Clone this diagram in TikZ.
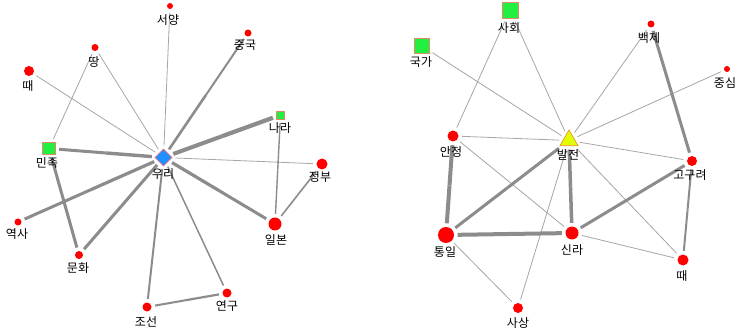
\documentclass[tikz,border=0pt]{standalone}
\usepackage{fontspec}
\setmainfont{Noto Sans CJK KR}
\usetikzlibrary{shapes.geometric,calc}
\pgfdeclarelayer{bg}
\pgfsetlayers{bg,main}
\definecolor{edgecol}{HTML}{8C8C8C}
\definecolor{thincol}{HTML}{A6A6A6}
\definecolor{nodegreen}{HTML}{22F040}
\definecolor{sqborder}{HTML}{E08A6A}
\definecolor{dblue}{HTML}{1E90FF}
\definecolor{dborder}{HTML}{E06A80}
\definecolor{tyellow}{HTML}{E0FF00}
\definecolor{tborder}{HTML}{E89030}
\tikzset{
  rn/.style={circle,fill=red,draw=none,inner sep=0pt,minimum size=#1},
  gs/.style={rectangle,fill=nodegreen,draw=sqborder,line width=0.6pt,inner sep=0pt,minimum size=#1},
  dia/.style={diamond,aspect=1,fill=dblue,draw=dborder,line width=0.6pt,inner sep=0pt,minimum width=17pt,minimum height=17pt},
  tri/.style={regular polygon,regular polygon sides=3,fill=tyellow,draw=tborder,line width=0.7pt,inner sep=0pt,minimum size=21pt},
  lab/.style={inner sep=0pt,font=\fontsize{12}{13}\selectfont,text=black},
}
% thick edge: two halves of slightly different widths
\newcommand\edg[4]{%
  \draw[edgecol,line width=#3,shorten <=3.5pt] (#1) -- ($(#1)!0.5!(#2)$);
  \draw[edgecol,line width=#4,shorten >=3.5pt] ($(#1)!0.5!(#2)$) -- (#2);}
% thin edge
\newcommand\tedg[2]{%
  \draw[thincol,line width=0.8pt,shorten <=3.5pt,shorten >=3.5pt] (#1) -- (#2);}
\begin{document}
\begin{tikzpicture}[x=1pt,y=-1pt]
\useasboundingbox (0,0) rectangle (737,334);
% ---------- left graph ----------
\node[rn=6pt] (sy) at (170,6) {};
\node[lab] (sy-l) at (168,20) {서양};
\node[rn=7pt] (jg) at (248,33) {};
\node[lab] (jg-l) at (245,45) {중국};
\node[rn=7pt] (dd) at (95,47.5) {};
\node[lab] (dd-l) at (94,62) {땅};
\node[rn=10pt] (tt) at (29,71) {};
\node[lab] (tt-l) at (28,86) {때};
\node[gs=8pt] (nara) at (280.5,115) {};
\node[lab] (nara-l) at (280,128) {나라};
\node[gs=12.5pt] (mj) at (49,148.5) {};
\node[lab] (mj-l) at (47,163) {민족};
\node[dia] (uri) at (163.5,157.5) {};
\node[lab] (uri-l) at (163,174) {우리};
\node[rn=11pt] (jb) at (322,164) {};
\node[lab] (jb-l) at (320,177) {정부};
\node[rn=13pt] (ib) at (275,224) {};
\node[lab] (ib-l) at (276,240) {일본};
\node[rn=7pt] (ys) at (18,222) {};
\node[lab] (ys-l) at (17,234) {역사};
\node[rn=8pt] (mh) at (79,255) {};
\node[lab] (mh-l) at (78,268) {문화};
\node[rn=9pt] (js) at (147,307) {};
\node[lab] (js-l) at (146,322) {조선};
\node[rn=9pt] (yg) at (227,293) {};
\node[lab] (yg-l) at (227,306) {연구};
% ---------- right graph ----------
\node[gs=16pt] (sh) at (510,10) {};
\node[lab] (sh-l) at (509,28) {사회};
\node[gs=14.5pt] (gg) at (422,46) {};
\node[lab] (gg-l) at (421,62) {국가};
\node[rn=7pt] (bj) at (651,24) {};
\node[lab] (bj-l) at (649,38) {백제};
\node[rn=6pt] (jsim) at (727,69) {};
\node[lab] (jsim-l) at (725,83) {중심};
\node[rn=11pt] (aj) at (453,136) {};
\node[lab] (aj-l) at (451,152) {안정};
\node[tri] (bjn) at (569,140.5) {};
\node[lab] (bjn-l) at (568,155) {발전};
\node[rn=10pt] (ggr) at (692,161) {};
\node[lab] (ggr-l) at (690,175) {고구려};
\node[rn=16pt] (ti) at (446,235) {};
\node[lab] (ti-l) at (445,252) {통일};
\node[rn=13pt] (sl) at (572,233) {};
\node[lab] (sl-l) at (572,250) {신라};
\node[rn=11pt] (tt2) at (683,260) {};
\node[lab] (tt2-l) at (682,276) {때};
\node[rn=10pt] (ss) at (518,308) {};
\node[lab] (ss-l) at (518,323) {사상};
\begin{pgfonlayer}{bg}
\fill[white] (0,0) rectangle (737,334);
% left edges
\tedg{tt}{uri}
\tedg{dd}{mj}
\tedg{dd}{uri}
\tedg{sy}{uri}
\edg{jg}{uri}{2pt}{2.6pt}
\edg{nara}{uri}{4.2pt}{4pt}
\tedg{uri}{jb}
\edg{nara}{ib}{1.4pt}{1.4pt}
\edg{jb}{ib}{1.6pt}{1.6pt}
\edg{mj}{uri}{3pt}{3.4pt}
\edg{mj}{mh}{3pt}{3pt}
\edg{ys}{uri}{3pt}{3.2pt}
\edg{mh}{uri}{3pt}{3pt}
\edg{uri}{ib}{3.2pt}{3pt}
\edg{uri}{js}{2pt}{2pt}
\edg{uri}{yg}{1.5pt}{1.5pt}
\edg{js}{yg}{2pt}{2.2pt}
% right edges
\tedg{gg}{bjn}
\tedg{sh}{aj}
\tedg{sh}{bjn}
\tedg{bj}{bjn}
\tedg{jsim}{bjn}
\edg{bj}{ggr}{3pt}{3pt}
\tedg{aj}{bjn}
\tedg{bjn}{ggr}
\edg{aj}{ti}{4pt}{4pt}
\tedg{aj}{sl}
\edg{bjn}{ti}{3pt}{3pt}
\edg{bjn}{sl}{3.5pt}{3.5pt}
\tedg{bjn}{ss}
\tedg{bjn}{tt2}
\edg{ti}{sl}{4pt}{4pt}
\edg{sl}{ggr}{3pt}{3pt}
\tedg{sl}{tt2}
\edg{ggr}{tt2}{2pt}{2pt}
\tedg{ti}{ss}
\end{pgfonlayer}
\end{tikzpicture}
\end{document}
